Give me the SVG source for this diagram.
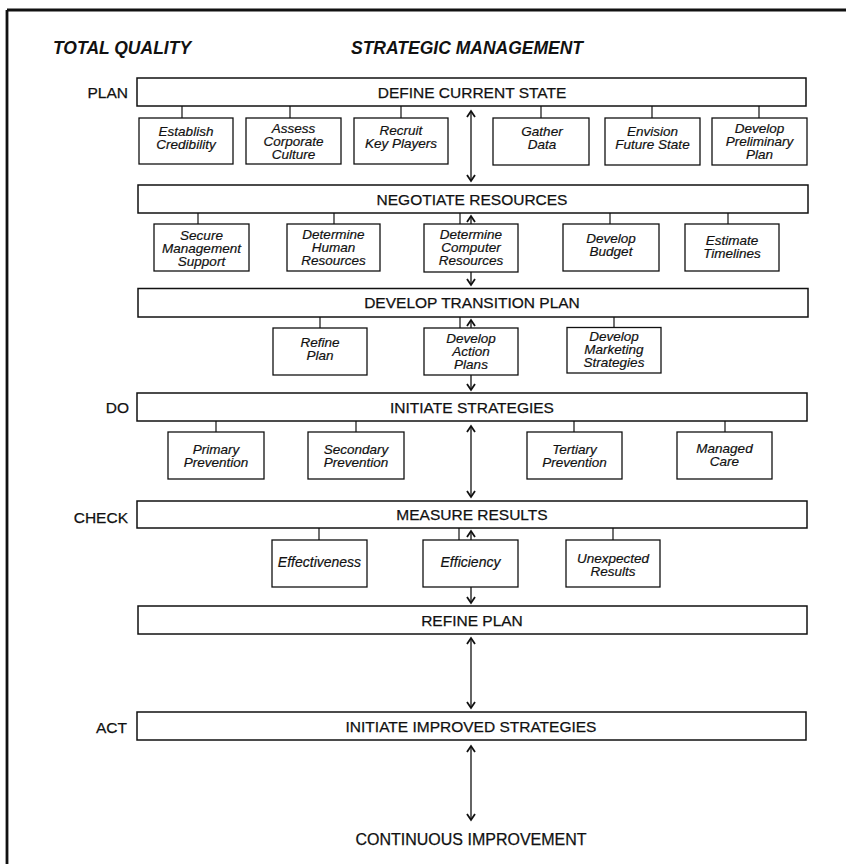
<svg xmlns="http://www.w3.org/2000/svg" width="846" height="864" viewBox="0 0 846 864">
<style>
.bg{fill:#ffffff}
.frame{stroke:#111;stroke-width:2.8;fill:none}
.main{fill:#fff;stroke:#111;stroke-width:1.5}
.sub{fill:#fff;stroke:#111;stroke-width:1.3}
.conn{stroke:#111;stroke-width:1.2;fill:none}
.arr{stroke:#111;stroke-width:1.3;fill:none}
.title{font-family:"Liberation Sans",Arial,sans-serif;font-weight:bold;font-style:italic;font-size:17.5px;fill:#111}
.lbl{font-family:"Liberation Sans",Arial,sans-serif;font-size:15.5px;fill:#111;stroke:#111;stroke-width:0.25;text-anchor:middle}
.side{font-family:"Liberation Sans",Arial,sans-serif;font-size:15.5px;fill:#111;stroke:#111;stroke-width:0.25;text-anchor:end}
.it{font-family:"Liberation Sans",Arial,sans-serif;font-style:italic;font-size:13.5px;fill:#111;stroke:#111;stroke-width:0.2;text-anchor:middle}
</style>
<defs>
<marker id="ah" viewBox="-10 -10 20 20" markerWidth="20" markerHeight="20" refX="0" refY="0" markerUnits="userSpaceOnUse" orient="auto-start-reverse">
<path d="M-6,-4 L0,0 L-6,4" fill="none" stroke="#111" stroke-width="1.8"/>
</marker>
</defs>
<rect class="bg" x="0" y="0" width="846" height="864"/>
<g id="frame">
<line class="frame" x1="7" y1="10" x2="846" y2="10"/>
<line class="frame" x1="7" y1="10" x2="7" y2="864"/>
</g>
<g id="headers">
<text class="title" x="53" y="54">TOTAL QUALITY</text>
<text class="title" x="351" y="54">STRATEGIC MANAGEMENT</text>
<text class="side" x="128" y="97.5">PLAN</text>
<text class="side" x="129" y="412.5">DO</text>
<text class="side" x="128" y="522.5">CHECK</text>
<text class="side" x="127" y="733">ACT</text>
</g>
<g id="connectors">
<line class="conn" x1="182" y1="106" x2="182" y2="118"/>
<line class="conn" x1="290" y1="106" x2="290" y2="118"/>
<line class="conn" x1="401" y1="106" x2="401" y2="118"/>
<line class="conn" x1="541" y1="106" x2="541" y2="118"/>
<line class="conn" x1="652" y1="106" x2="652" y2="118"/>
<line class="conn" x1="759" y1="106" x2="759" y2="118"/>
<line class="conn" x1="198" y1="213" x2="198" y2="224"/>
<line class="conn" x1="334" y1="213" x2="334" y2="224"/>
<line class="conn" x1="460" y1="213" x2="460" y2="224"/>
<line class="conn" x1="610" y1="213" x2="610" y2="224"/>
<line class="conn" x1="728" y1="213" x2="728" y2="224"/>
<line class="conn" x1="320" y1="317" x2="320" y2="328"/>
<line class="conn" x1="460" y1="317" x2="460" y2="328"/>
<line class="conn" x1="614" y1="317" x2="614" y2="328"/>
<line class="conn" x1="216" y1="421" x2="216" y2="432"/>
<line class="conn" x1="356" y1="421" x2="356" y2="432"/>
<line class="conn" x1="574" y1="421" x2="574" y2="432"/>
<line class="conn" x1="725" y1="421" x2="725" y2="432"/>
<line class="conn" x1="319" y1="528" x2="319" y2="540"/>
<line class="conn" x1="459" y1="528" x2="459" y2="540"/>
<line class="conn" x1="613" y1="528" x2="613" y2="540"/>
<line class="arr" x1="471" y1="111" x2="471" y2="181" marker-start="url(#ah)" marker-end="url(#ah)"/>
<line class="arr" x1="471" y1="224" x2="471" y2="216" marker-end="url(#ah)"/>
<line class="arr" x1="471" y1="272" x2="471" y2="285" marker-end="url(#ah)"/>
<line class="arr" x1="471" y1="328" x2="471" y2="320" marker-end="url(#ah)"/>
<line class="arr" x1="471" y1="375" x2="471" y2="390" marker-end="url(#ah)"/>
<line class="arr" x1="471" y1="426" x2="471" y2="497" marker-start="url(#ah)" marker-end="url(#ah)"/>
<line class="arr" x1="471" y1="540" x2="471" y2="531" marker-end="url(#ah)"/>
<line class="arr" x1="471" y1="587" x2="471" y2="603" marker-end="url(#ah)"/>
<line class="arr" x1="471" y1="638" x2="471" y2="708" marker-start="url(#ah)" marker-end="url(#ah)"/>
<line class="arr" x1="471" y1="746" x2="471" y2="820" marker-start="url(#ah)" marker-end="url(#ah)"/>
</g>
<g id="define-current-state"><rect class="main" x="137" y="78" width="669" height="28"/><text class="lbl" x="472" y="97.5">DEFINE CURRENT STATE</text></g>
<g id="establish-credibility"><rect class="sub" x="139" y="118" width="94" height="46"/><text class="it" x="186" y="136">Establish</text><text class="it" x="186" y="149">Credibility</text></g>
<g id="assess-corporate-culture"><rect class="sub" x="246" y="118" width="95" height="46"/><text class="it" x="293.5" y="133">Assess</text><text class="it" x="293.5" y="146">Corporate</text><text class="it" x="293.5" y="159">Culture</text></g>
<g id="recruit-key-players"><rect class="sub" x="354" y="118" width="94" height="46"/><text class="it" x="401" y="135">Recruit</text><text class="it" x="401" y="148">Key Players</text></g>
<g id="gather-data"><rect class="sub" x="493" y="118" width="96" height="47"/><text class="it" x="542" y="136">Gather</text><text class="it" x="542" y="149">Data</text></g>
<g id="envision-future-state"><rect class="sub" x="605" y="118" width="95" height="47"/><text class="it" x="652.5" y="136">Envision</text><text class="it" x="652.5" y="149">Future State</text></g>
<g id="develop-preliminary-plan"><rect class="sub" x="712" y="118" width="95" height="47"/><text class="it" x="759.5" y="133">Develop</text><text class="it" x="759.5" y="146">Preliminary</text><text class="it" x="759.5" y="159">Plan</text></g>
<g id="negotiate-resources"><rect class="main" x="138" y="185" width="670" height="28"/><text class="lbl" x="472" y="204.5">NEGOTIATE RESOURCES</text></g>
<g id="secure-management-support"><rect class="sub" x="154" y="224" width="95" height="47"/><text class="it" x="201.5" y="239.5">Secure</text><text class="it" x="201.5" y="252.5">Management</text><text class="it" x="201.5" y="265.5">Support</text></g>
<g id="determine-human-resources"><rect class="sub" x="287" y="224" width="93" height="47"/><text class="it" x="333.5" y="239">Determine</text><text class="it" x="333.5" y="252">Human</text><text class="it" x="333.5" y="265">Resources</text></g>
<g id="determine-computer-resources"><rect class="sub" x="424" y="224" width="94" height="48"/><text class="it" x="471" y="239">Determine</text><text class="it" x="471" y="252">Computer</text><text class="it" x="471" y="265">Resources</text></g>
<g id="develop-budget"><rect class="sub" x="563" y="224" width="96" height="47"/><text class="it" x="611" y="243">Develop</text><text class="it" x="611" y="256">Budget</text></g>
<g id="estimate-timelines"><rect class="sub" x="685" y="224" width="94" height="47"/><text class="it" x="732" y="244.5">Estimate</text><text class="it" x="732" y="257.5">Timelines</text></g>
<g id="develop-transition-plan"><rect class="main" x="138" y="288.5" width="670" height="28.5"/><text class="lbl" x="472" y="308">DEVELOP TRANSITION PLAN</text></g>
<g id="refine-plan-sub"><rect class="sub" x="273" y="328" width="94" height="47"/><text class="it" x="320" y="346.5">Refine</text><text class="it" x="320" y="359.5">Plan</text></g>
<g id="develop-action-plans"><rect class="sub" x="424" y="328" width="94" height="47"/><text class="it" x="471" y="343">Develop</text><text class="it" x="471" y="356">Action</text><text class="it" x="471" y="369">Plans</text></g>
<g id="develop-marketing-strategies"><rect class="sub" x="567" y="327.5" width="94" height="45.5"/><text class="it" x="614" y="340.5">Develop</text><text class="it" x="614" y="353.5">Marketing</text><text class="it" x="614" y="366.5">Strategies</text></g>
<g id="initiate-strategies"><rect class="main" x="137" y="393" width="670" height="28"/><text class="lbl" x="472" y="412.5">INITIATE STRATEGIES</text></g>
<g id="primary-prevention"><rect class="sub" x="168" y="432" width="96" height="47"/><text class="it" x="216" y="454">Primary</text><text class="it" x="216" y="467">Prevention</text></g>
<g id="secondary-prevention"><rect class="sub" x="308" y="432" width="96" height="47"/><text class="it" x="356" y="454">Secondary</text><text class="it" x="356" y="467">Prevention</text></g>
<g id="tertiary-prevention"><rect class="sub" x="527" y="432" width="95" height="47"/><text class="it" x="574.5" y="454">Tertiary</text><text class="it" x="574.5" y="467">Prevention</text></g>
<g id="managed-care"><rect class="sub" x="677" y="432" width="95" height="47"/><text class="it" x="724.5" y="453">Managed</text><text class="it" x="724.5" y="466">Care</text></g>
<g id="measure-results"><rect class="main" x="137" y="501" width="670" height="27"/><text class="lbl" x="472" y="520">MEASURE RESULTS</text></g>
<g id="effectiveness"><rect class="sub" x="272" y="540" width="95" height="47"/><text class="it" x="319.5" y="566.5" style="font-size:14px">Effectiveness</text></g>
<g id="efficiency"><rect class="sub" x="423" y="540" width="95" height="47"/><text class="it" x="470.5" y="566.5" style="font-size:14px">Efficiency</text></g>
<g id="unexpected-results"><rect class="sub" x="566" y="540" width="94" height="47"/><text class="it" x="613" y="562.5">Unexpected</text><text class="it" x="613" y="575.5">Results</text></g>
<g id="refine-plan"><rect class="main" x="138" y="606" width="669" height="28"/><text class="lbl" x="472" y="625.5">REFINE PLAN</text></g>
<g id="initiate-improved-strategies"><rect class="main" x="137" y="712" width="669" height="28"/><text class="lbl" x="471" y="731.5">INITIATE IMPROVED STRATEGIES</text></g>
<g id="continuous-improvement"><text class="lbl" x="471" y="845" style="font-size:16px">CONTINUOUS IMPROVEMENT</text></g>
</svg>
